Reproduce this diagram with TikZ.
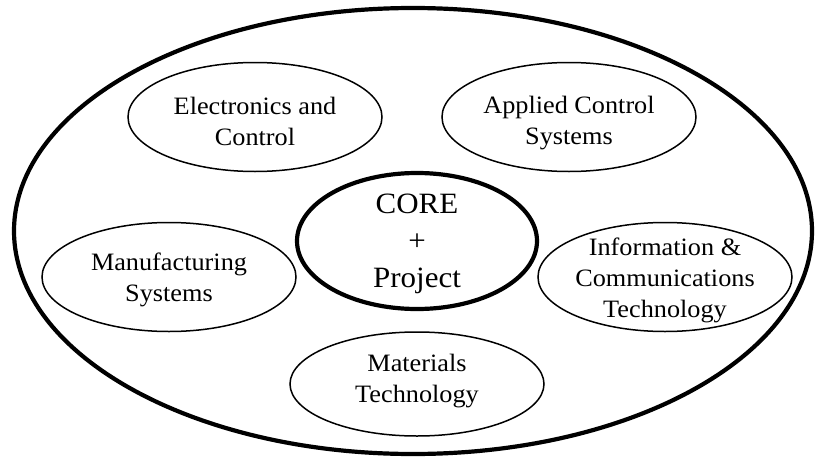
\documentclass[tikz,border=0pt]{standalone}
\usepackage{fontspec}
\setmainfont{Liberation Serif}[FakeStretch=1.05]
\usetikzlibrary{shapes.geometric}
\tikzset{
  area/.style={draw=black, ellipse, line width=1.5pt, inner sep=0pt, minimum width=254pt, minimum height=109pt},
  bigarea/.style={draw=black, ellipse, line width=4.2pt, inner sep=0pt},
  lbl/.style={align=center, inner sep=0pt, font=\fontsize{25}{31}\selectfont},
  corelbl/.style={align=center, inner sep=0pt, font=\fontsize{29.5}{37}\selectfont}
}
\begin{document}
\begin{tikzpicture}[x=1pt,y=-1pt]
\useasboundingbox (0,0) rectangle (815,458);
\node[bigarea, minimum width=798pt, minimum height=446pt] (outer) at (413,231) {};
\node[area] (elec) at (255,117) {};
\node[area] (acs) at (569,117) {};
\node[bigarea, minimum width=240pt, minimum height=136pt] (core) at (417,241) {};
\node[area] (man) at (169,277) {};
\node[area] (ict) at (665,277) {};
\node[area, minimum height=104pt] (mat) at (417,384) {};
\node[lbl] (telec) at (255,121) {Electronics and\\Control};
\node[lbl] (tacs) at (569,123) {Applied Control\\Systems};
\node[corelbl] (tcore) at (417,244) {CORE\\+\\Project};
\node[lbl] (tman) at (169,280) {Manufacturing\\Systems};
\node[lbl] (tict) at (665,280) {Information \&\\Communications\\Technology};
\node[lbl] (tmat) at (417,381) {Materials\\Technology};
\end{tikzpicture}
\end{document}
